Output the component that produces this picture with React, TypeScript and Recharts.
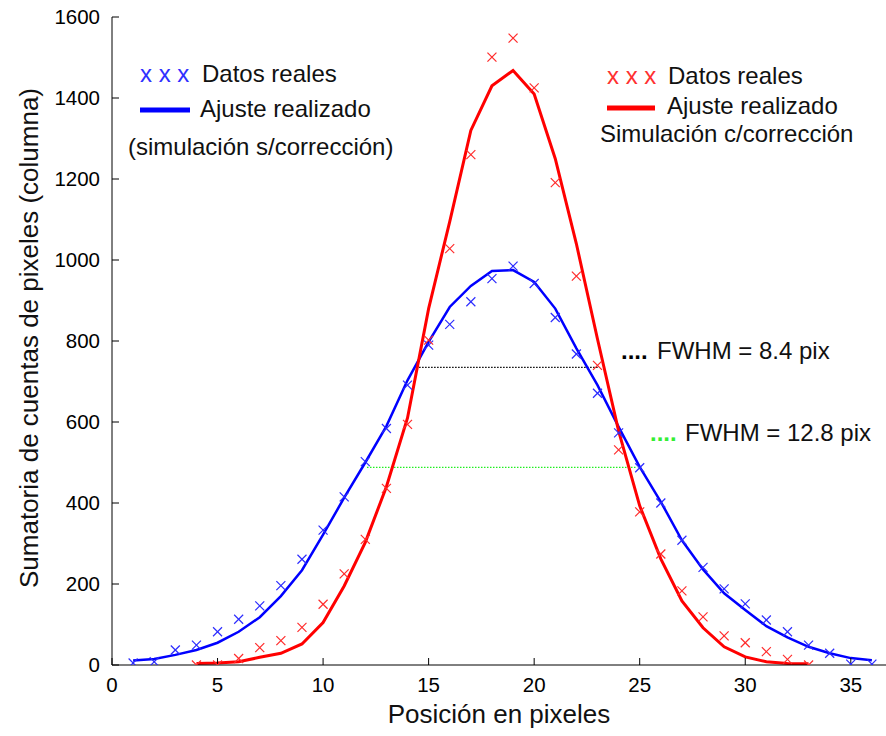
import React from "react";
import {
  ComposedChart,
  Line,
  Scatter,
  XAxis,
  YAxis,
  ReferenceLine,
} from "recharts";

// pixel positions (columns) of each sample
const bluePos = [1, 2, 3, 4, 5, 6, 7, 8, 9, 10, 11, 12, 13, 14, 15, 16, 17, 18, 19, 20, 21, 22, 23, 24, 25, 26, 27, 28, 29, 30, 31, 32, 33, 34, 35, 36];
const blueReal = [5, 8, 37, 49, 82, 113, 146, 196, 261, 333, 415, 502, 584, 691, 790, 841, 897, 954, 985, 942, 858, 768, 671, 573, 487, 400, 308, 241, 188, 151, 111, 82, 49, 29, 2, 2];
const blueFit = [11, 15, 25, 37, 55, 82, 118, 170, 234, 322, 413, 500, 590, 703, 798, 884, 936, 973, 975, 946, 880, 782, 691, 588, 489, 403, 308, 236, 177, 136, 96, 68, 45, 29, 17, 12];

const redPos = [4, 5, 6, 7, 8, 9, 10, 11, 12, 13, 14, 15, 16, 17, 18, 19, 20, 21, 22, 23, 24, 25, 26, 27, 28, 29, 30, 31, 32, 33];
const redReal = [0, 0, 16, 43, 60, 93, 150, 225, 310, 436, 594, 802, 1028, 1260, 1501, 1548, 1425, 1191, 960, 740, 531, 378, 274, 183, 119, 72, 55, 33, 14, 0];
const redFit = [4, 5, 8, 19, 29, 52, 105, 195, 303, 440, 610, 880, 1095, 1320, 1430, 1468, 1410, 1250, 1040, 805, 578, 393, 262, 158, 92, 45, 20, 8, 4, 3];

// half-maximum levels and their extents
const fwhmRed = { level: 735, from: 14.55, to: 23.05 };
const fwhmBlue = { level: 488, from: 12.08, to: 24.88 };

const xTicks = [0, 5, 10, 15, 20, 25, 30, 35];
const yTicks = [0, 200, 400, 600, 800, 1000, 1200, 1400, 1600];

const FONT = '"Liberation Sans", Arial, sans-serif';

const toPoints = (xs: number[], ys: number[]) => xs.map((x, i) => ({ x, y: ys[i] }));

const blueRealData = toPoints(bluePos, blueReal);
const blueFitData = toPoints(bluePos, blueFit);
const redRealData = toPoints(redPos, redReal);
const redFitData = toPoints(redPos, redFit);

function XMark({ cx, cy, color }: { cx?: number; cy?: number; color: string }) {
  if (cx == null || cy == null) return <g />;
  const s = 4.5;
  return (
    <g stroke={color} strokeWidth={1.2}>
      <line x1={cx - s} y1={cy - s} x2={cx + s} y2={cy + s} />
      <line x1={cx - s} y1={cy + s} x2={cx + s} y2={cy - s} />
    </g>
  );
}

function Overlay() {
  const txt = { fontFamily: FONT, fontSize: 24, fill: "#111" };
  return (
    <svg
      width={886}
      height={736}
      style={{ position: "absolute", left: 0, top: 0, pointerEvents: "none" }}
    >
      {/* blue legend */}
      <text x={140} y={82} {...txt} fill="#3030ff">x x x</text>
      <text x={202} y={82} {...txt}>Datos reales</text>
      <line x1={140} y1={110} x2={190} y2={110} stroke="#0000ff" strokeWidth={5} />
      <text x={200} y={117} {...txt}>Ajuste realizado</text>
      <text x={128} y={155} {...txt}>(simulación s/corrección)</text>

      {/* red legend */}
      <text x={607} y={84} {...txt} fill="#ff3030">x x x</text>
      <text x={668} y={84} {...txt}>Datos reales</text>
      <line x1={607} y1={108} x2={655} y2={108} stroke="#ff0000" strokeWidth={5} />
      <text x={667} y={114} {...txt}>Ajuste realizado</text>
      <text x={600} y={142} {...txt}>Simulación c/corrección</text>

      {/* FWHM labels */}
      <text x={621} y={359} {...txt} fill="#000" fontWeight="bold">....</text>
      <text x={657} y={359} {...txt}>FWHM = 8.4 pix</text>
      <text x={650} y={441} {...txt} fill="#33ee33" fontWeight="bold">....</text>
      <text x={685} y={441} {...txt}>FWHM = 12.8 pix</text>

      {/* axis titles */}
      <text x={499} y={723} {...txt} fontSize={26} textAnchor="middle">
        Posición en pixeles
      </text>
      <text
        x={38}
        y={338}
        {...txt}
        fontSize={26}
        textAnchor="middle"
        transform="rotate(-90 38 338)"
      >
        Sumatoria de cuentas de pixeles (columna)
      </text>
    </svg>
  );
}

export default function App() {
  const tickStyle = { fontFamily: FONT, fontSize: 20.5, fill: "#000" };
  const axisLine = { stroke: "#000", strokeWidth: 1 };
  const tickLine = { stroke: "#000", strokeWidth: 1 };
  return (
    <div
      style={{
        position: "absolute",
        left: 0,
        top: 0,
        width: 886,
        height: 736,
        overflow: "hidden",
        background: "#fff",
      }}
    >
      <ComposedChart
        width={893}
        height={736}
        margin={{ top: 17, right: 0, bottom: 0, left: 0 }}
      >
        <XAxis
          dataKey="x"
          type="number"
          domain={[0, 37]}
          ticks={xTicks}
          allowDataOverflow
          height={71}
          tickSize={-7}
          tickMargin={19}
          tick={tickStyle}
          axisLine={axisLine}
          tickLine={tickLine}
        />
        <XAxis
          xAxisId="top"
          orientation="top"
          dataKey="x"
          type="number"
          domain={[0, 37]}
          ticks={xTicks}
          allowDataOverflow
          height={0}
          tickSize={-7}
          tick={false}
          axisLine={axisLine}
          tickLine={tickLine}
        />
        <YAxis
          type="number"
          domain={[0, 1600]}
          ticks={yTicks}
          allowDataOverflow
          width={112}
          tickSize={-7}
          tickMargin={19}
          tick={tickStyle}
          axisLine={axisLine}
          tickLine={tickLine}
        />
        <YAxis
          yAxisId="right"
          orientation="right"
          type="number"
          domain={[0, 1600]}
          ticks={yTicks}
          width={0}
          tickSize={-7}
          tick={false}
          axisLine={axisLine}
          tickLine={tickLine}
        />

        <ReferenceLine
          segment={[
            { x: fwhmRed.from, y: fwhmRed.level },
            { x: fwhmRed.to, y: fwhmRed.level },
          ]}
          stroke="#000"
          strokeWidth={1.4}
          strokeDasharray="1.5 1.5"
        />
        <ReferenceLine
          segment={[
            { x: fwhmBlue.from, y: fwhmBlue.level },
            { x: fwhmBlue.to, y: fwhmBlue.level },
          ]}
          stroke="#22ee22"
          strokeWidth={1.4}
          strokeDasharray="1.5 1.5"
        />

        <Line
          data={blueFitData}
          dataKey="y"
          type="linear"
          stroke="#0000ff"
          strokeWidth={2.5}
          dot={false}
          activeDot={false}
          isAnimationActive={false}
        />
        <Line
          data={redFitData}
          dataKey="y"
          type="linear"
          stroke="#ff0000"
          strokeWidth={3}
          dot={false}
          activeDot={false}
          isAnimationActive={false}
        />
        <Scatter
          data={blueRealData}
          dataKey="y"
          shape={(p: any) => <XMark cx={p.cx} cy={p.cy} color="#2b2bff" />}
          isAnimationActive={false}
        />
        <Scatter
          data={redRealData}
          dataKey="y"
          shape={(p: any) => <XMark cx={p.cx} cy={p.cy} color="#ff2b2b" />}
          isAnimationActive={false}
        />
      </ComposedChart>
      <Overlay />
    </div>
  );
}
